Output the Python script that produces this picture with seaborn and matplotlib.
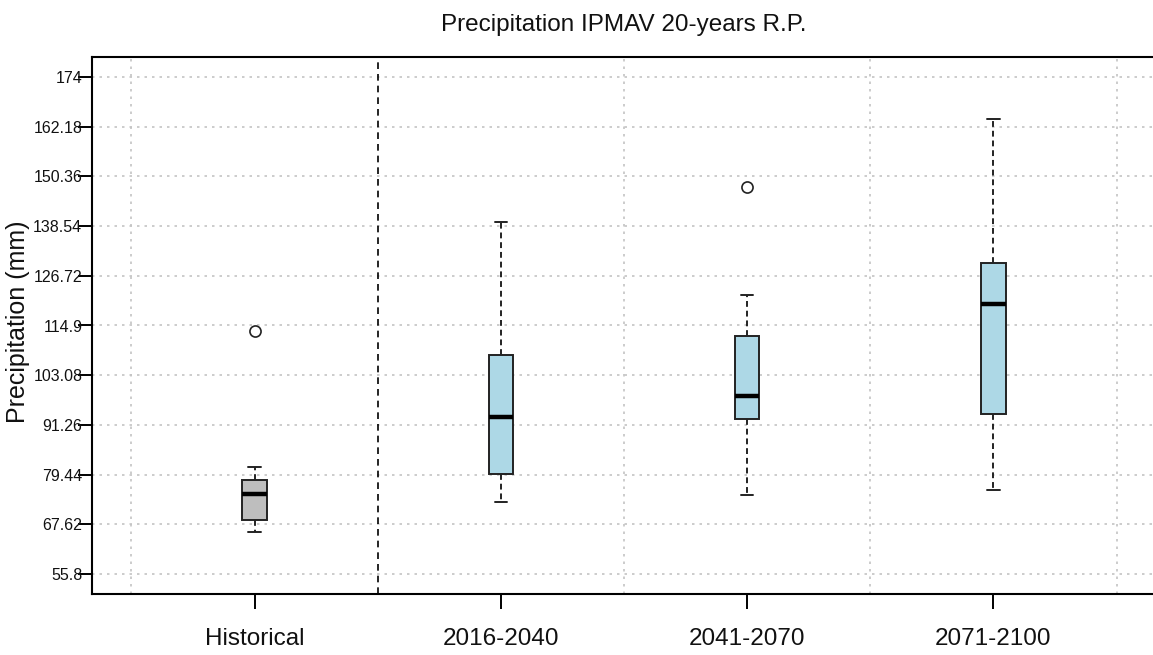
import matplotlib
matplotlib.use("Agg")
import matplotlib.pyplot as plt
import pandas as pd
import seaborn as sns

# Ensemble 20-year return-period precipitation (mm) per period
periods = ["Historical", "2016-2040", "2041-2070", "2071-2100"]
historical = [65.8, 67.0, 68.6, 71.5, 74.9, 76.8, 78.25, 81.27, 113.55]
p2016_2040 = [72.84, 76.5, 79.6, 86.0, 93.07, 101.5, 108.0, 124.0, 139.6]
p2041_2070 = [74.7, 88.0, 92.6, 95.5, 98.24, 105.0, 112.3, 122.1, 147.75]
p2071_2100 = [75.7, 86.0, 93.95, 108.0, 120.06, 125.0, 129.66, 148.0, 164.1]
box_colors = ["#BEBEBE", "#ADD8E6", "#ADD8E6", "#ADD8E6"]
y_ticks = [55.8, 67.62, 79.44, 91.26, 103.08, 114.9, 126.72, 138.54, 150.36, 162.18, 174]

series = [historical, p2016_2040, p2041_2070, p2071_2100]
df = pd.DataFrame(
    [(p, v) for p, vals in zip(periods, series) for v in vals],
    columns=["period", "precip"],
)

sns.set_style("ticks")
plt.rcParams["font.family"] = ["Liberation Sans", "DejaVu Sans"]

W, H = 1153, 655
fig = plt.figure(figsize=(W / 100, H / 100), dpi=100)
left, right, top, bottom = 92, 1156, 57, 594
ax = fig.add_axes([left / W, (H - bottom) / H, (right - left) / W, (bottom - top) / H])

edge = "#222222"
sns.boxplot(
    data=df, x="period", y="precip", hue="period",
    order=periods, hue_order=periods, palette=box_colors,
    legend=False, saturation=1, width=0.1, whis=1.5,
    linecolor=edge, linewidth=1.4, ax=ax,
    whiskerprops=dict(linestyle=(0, (3, 2)), linewidth=1.4, color=edge),
    capprops=dict(linewidth=1.4, color=edge),
    medianprops=dict(linewidth=3.2, color="black"),
    flierprops=dict(marker="o", markersize=8, markerfacecolor="white",
                    markeredgecolor=edge, markeredgewidth=1.2),
)

# Axis ranges in the style of R's 4% padding
span = y_ticks[-1] - y_ticks[0]
ax.set_ylim(y_ticks[0] - 0.04 * span, y_ticks[-1] + 0.04 * span)
n = len(periods)
ax.set_xlim(-0.5 - 0.04 * n, n - 0.5 + 0.04 * n)

# Dotted reference grid
grid_kw = dict(color="#C4C4C4", linestyle=(0, (1.5, 3)), linewidth=1.2, zorder=0)
for v in y_ticks:
    ax.axhline(v, **grid_kw)
for i in range(n + 1):
    if i == 1:
        continue
    ax.axvline(i - 0.5, **grid_kw)
# Separator between the historical run and the projections
ax.axvline(0.5, color="black", linestyle=(0, (4, 3)), linewidth=1.2, zorder=1)

ax.set_yticks(y_ticks)
ax.set_yticklabels([f"{v:g}" for v in y_ticks])
ax.set_xticks(range(n))
ax.set_xticklabels(periods)
ax.tick_params(axis="y", direction="out", length=10, width=1.4, labelsize=11.5,
               pad=-3, color="black", labelcolor="#111111")
ax.tick_params(axis="x", direction="out", length=10.5, width=1.4, labelsize=17.5,
               pad=14, color="black", labelcolor="#111111")

for s in ax.spines.values():
    s.set_visible(True)
    s.set_linewidth(1.5)
    s.set_color("black")

ax.set_xlabel("")
ax.set_ylabel("Precipitation (mm)", fontsize=18, va="center", color="#111111")
ax.yaxis.set_label_coords((18 - left) / (right - left), (bottom - 322) / (bottom - top))
ax.set_title("Precipitation IPMAV 20-years R.P.", fontsize=17.5, pad=19, color="#111111")

fig.savefig("out.png", dpi=100, facecolor="white")
